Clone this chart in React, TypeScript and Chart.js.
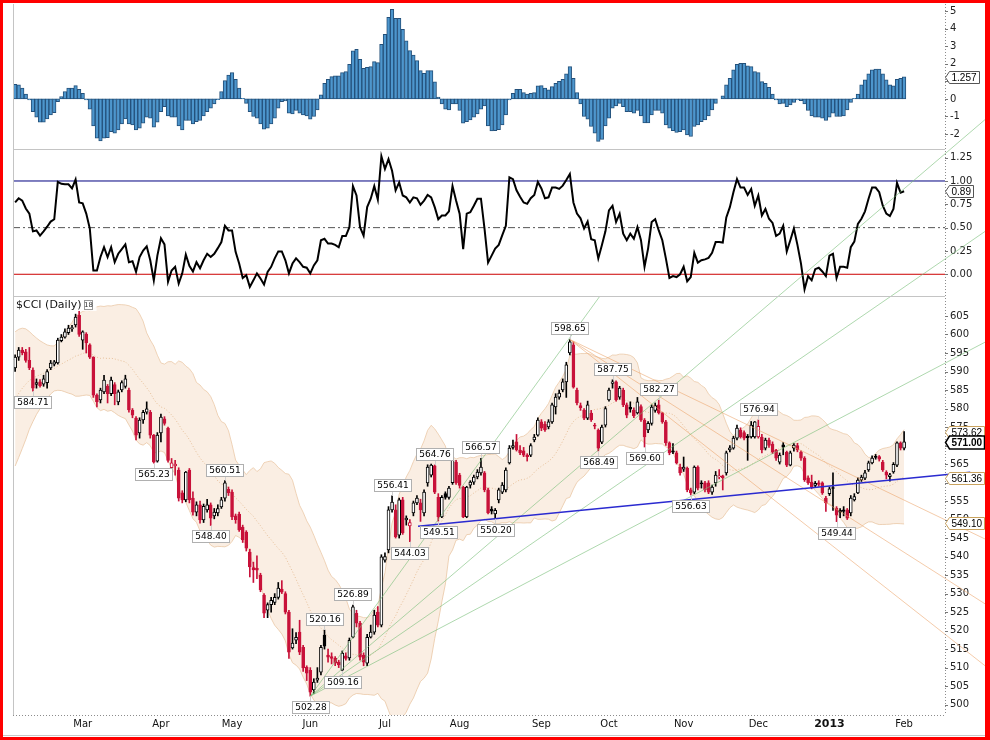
import React, { useEffect, useRef } from 'react';
import { Chart, registerables } from 'chart.js';

Chart.register(...registerables);

// ---------------- DATA ----------------
// closes before the first visible bar (used only to seed the 20-day Bollinger Bands)
const priorCloses = [566, 568, 570, 571, 574, 576, 578, 580, 581, 583, 585, 586, 588, 590, 591, 592, 593, 594, 592];

const opens = [
  591, 593.9, 595.8, 595.3, 593, 590.4, 586.5, 587.2, 586.6, 587,
  591, 592, 592.3, 598.3, 599.3, 600.5, 601.5, 602.6, 605.2, 598.5,
  600.1, 597.2, 593.9, 583.6, 582.3, 584.5, 586, 584, 586.5, 581.8,
  585, 586, 585, 579.6, 577.4, 573.4, 576.9, 579, 579, 572.8,
  565.8, 573.4, 577.2, 574.7, 564, 564.5, 563.4, 557.2, 555.3, 563.4,
  555.8, 552, 554, 549.9, 552.6, 554, 551, 551.8, 553.4, 555.8,
  558.2, 557.4, 551, 551.5, 548, 546.6, 541.2, 537, 536.8, 535,
  529.6, 525.5, 527, 527.6, 529, 531.2, 530, 525, 515.3, 517.4,
  519.6, 515.5, 510.1, 509.3, 504, 506.6, 508.8, 518.8, 513.4, 513,
  512.6, 511.5, 509.3, 513.2, 512.6, 518.2, 524.7, 522, 513.4, 511.2,
  518.2, 519.6, 525, 521.5, 539, 541.8, 552.6, 552.6, 545.8, 555.3,
  549.9, 548.3, 551.8, 554.5, 554.5, 551.8, 559.9, 562, 564.5, 556,
  550.7, 557, 556, 560, 565.5, 562, 558.8, 550.7, 559.3, 560.1,
  561.5, 562.6, 562.6, 558, 552.8, 551.5, 555.3, 557.4, 558, 565.3,
  569.5, 571, 568.8, 568.6, 567.4, 567.4, 571.5, 572.8, 576.4, 575.8,
  575, 576.4, 580.4, 583.1, 585, 587.2, 595, 597.2, 585, 580.8,
  579.6, 577.4, 578.8, 575.5, 574.2, 570.9, 575.5, 582.3, 586.8, 587.2,
  583.1, 585, 581, 580.3, 579.6, 578.8, 580.5, 576.9, 574.2, 576,
  579.5, 581, 578.8, 576.4, 570.7, 568.6, 568, 564.2, 563.6, 563.9,
  558, 557.4, 564.2, 559.9, 559.9, 559.9, 557.4, 559.9, 561.5, 561.8,
  562.6, 568.8, 569.3, 572, 574.2, 573.5, 572.5, 572.3, 572.3, 572.3,
  572.3, 569.3, 571.5, 570.4, 568.8, 565.5, 570.2, 568.2, 564.7, 569.3,
  570, 568.2, 566.6, 561.3, 560.1, 559.2, 559.9, 559.9, 555.8, 557,
  558.5, 553.1, 552.5, 552.6, 552.6, 551.8, 555.3, 557.2, 560.7, 561.2,
  563.4, 565.3, 567, 567, 565.5, 562.8, 561.6, 562.9, 564.7, 570.7,
  569.3,
];

const highs = [
  594.5, 596.5, 596.5, 596, 596.5, 591, 588, 587.8, 589, 590.5,
  593, 593, 599, 600, 601.5, 602.5, 602.5, 605.5, 606.3, 601,
  600.5, 597.5, 594, 584, 585.5, 589, 586.5, 588.5, 587, 585,
  587.5, 589, 585.5, 580, 577.8, 577.5, 579.5, 581.8, 579.5, 573,
  573.5, 578.5, 577.8, 575, 566.5, 566, 564, 557.8, 563, 563.8,
  557.5, 554.8, 555, 554.2, 555.5, 554.5, 553, 554, 556, 560.51,
  558.8, 558, 551.5, 552, 548.5, 547, 542, 538.5, 540.2, 535.5,
  530, 527.5, 529, 530, 533, 533.5, 530.5, 525.5, 520.5, 519.5,
  522.8, 516, 510.5, 510, 507, 510, 516, 520.16, 515, 514,
  513, 512, 514.5, 514, 518, 526.89, 525.5, 522.5, 514, 519,
  521.5, 525.5, 526.5, 540.5, 541, 553.5, 556.41, 554, 555.8, 556,
  551, 550, 555, 556.5, 555.5, 558, 564.8, 565, 564.76, 557,
  556.5, 557.5, 559, 566.5, 566, 562.5, 559, 559, 560.5, 562,
  563.5, 566.57, 563, 558.5, 553.5, 553, 558.5, 560, 564, 570,
  571.5, 573, 570, 569.5, 567.8, 570.5, 573, 577.5, 577, 576.5,
  577, 581.5, 584, 585, 588, 592.5, 598.65, 598, 585.5, 581.5,
  580, 582, 579.5, 576, 574.5, 575.5, 580.5, 585.5, 587.75, 587.5,
  586, 585.5, 581.5, 581.8, 580.2, 583, 581, 577.3, 576.5, 581,
  581.5, 582.27, 579, 576.8, 571, 570.5, 568.5, 565, 566.9, 564.2,
  558.5, 564.5, 564.5, 560.5, 560.3, 560.5, 559.3, 563, 563.5, 562,
  568.5, 570, 572.5, 575.5, 574.8, 574, 573, 576.5, 576.5, 576.94,
  573, 572, 572, 571, 569, 568, 570.8, 568.5, 568.5, 570.5,
  570.6, 568.6, 567, 561.8, 562, 560.3, 560.5, 560.2, 556.3, 558.8,
  562.6, 553.5, 553, 553.5, 553, 556.5, 557, 561.3, 562, 563.3,
  565.8, 567.2, 567.6, 567.3, 566, 563.2, 562.5, 565.4, 571, 571,
  573.8,
];

const lows = [
  590, 593, 594.5, 592.5, 590.5, 584.71, 585.5, 585.8, 586, 585.5,
  590.5, 591.5, 592, 598, 599, 600, 600.8, 602, 599.5, 596,
  595, 593.5, 583, 580.4, 581.5, 584, 581.5, 583.5, 581, 581,
  584.5, 585.5, 579, 577.5, 571.5, 572, 576, 578.5, 572, 565.23,
  565.5, 571, 575.5, 565.5, 563.5, 562, 555, 554.5, 554.8, 554.5,
  551.2, 551, 549, 549.2, 552, 548.4, 550.2, 551, 553, 555,
  556.5, 550, 549, 546.8, 543.8, 541.5, 534.5, 533, 534, 530.5,
  523.5, 523.5, 525, 527, 528.5, 530, 524.5, 512.5, 515, 516.5,
  513.5, 509, 506.5, 502.28, 503, 506, 508, 515, 511.5, 511,
  510.5, 510, 509.16, 512, 512, 518, 521, 512, 510.5, 510.5,
  518, 519, 521, 521, 538.5, 541, 552, 545, 545, 546,
  548.5, 544.03, 551, 554, 549.5, 551, 559, 561.5, 557, 549.51,
  550.5, 555.5, 555.5, 559.5, 559.5, 558.5, 550.5, 550.5, 558.5, 559.5,
  561, 562, 557.5, 551.5, 551.5, 550.2, 554.5, 557, 557.5, 565,
  569, 568.5, 567.5, 567, 565.8, 567, 571, 572.5, 574, 573.8,
  574.5, 576, 578.5, 582.5, 584.5, 583, 594.5, 585.5, 581, 579.5,
  577, 577, 576.5, 574.5, 568.49, 570.5, 575, 582, 585.5, 582,
  582.5, 580.5, 577.5, 579, 577.5, 578.5, 576.5, 569.6, 573.5, 575.5,
  579, 578.5, 576, 570, 567.5, 567.8, 565, 562, 563, 557.5,
  556.63, 557, 558, 558.5, 557.5, 557, 556.8, 559, 561, 558,
  562, 568.3, 569, 571.5, 572, 571.5, 566, 572, 572, 572,
  568, 568.8, 569.5, 567.8, 566, 565, 567.5, 564.3, 564.5, 568.5,
  568.3, 566, 560.3, 559.5, 558.3, 558.8, 559, 556.8, 552.2, 556.5,
  552.5, 549.44, 550.5, 551, 550, 551, 555, 557, 560.3, 560.8,
  563, 565, 566.3, 565.8, 563, 561, 560.4, 562.5, 564.3, 568.8,
  568.8,
];

const closes = [
  593.9, 595.8, 595, 593, 591, 585.5, 587, 586.2, 588, 590,
  592.3, 592.6, 598.5, 599.3, 600.7, 601.7, 601.9, 604.7, 600, 600.7,
  597.7, 593.9, 583.6, 581.8, 585, 587.7, 584, 587.7, 584, 584.5,
  587, 588, 579.6, 578.2, 572.8, 576.9, 579, 579.9, 572.8, 565.5,
  572.8, 577.7, 576, 566, 565.3, 565, 555.8, 555.3, 562.8, 555.3,
  552, 554, 549.9, 553.6, 554, 550.4, 552, 553, 555.3, 559.9,
  557.2, 550.7, 550, 547.2, 544.5, 542.3, 537.2, 536.4, 536.3, 531,
  524.7, 527, 528.2, 529, 531.5, 530.4, 525, 514.2, 516.6, 518.2,
  514.2, 509.9, 508.5, 503.4, 506.1, 507.2, 515.5, 515.8, 512.8, 512.5,
  511.2, 510.7, 513.9, 512.5, 517.4, 526.4, 522, 512.8, 511.5, 518.2,
  519.6, 524.2, 521.5, 539.9, 540, 552.6, 554.7, 545.3, 555.3, 546.4,
  550.4, 549.2, 554.5, 555.8, 552.6, 557.4, 564.2, 564.7, 557.4, 550.7,
  556, 556, 558.5, 566, 559.9, 559.2, 550.7, 558.8, 560.1, 561.5,
  562.8, 564.2, 558, 551.8, 552.3, 552.5, 558, 559.3, 563.4, 569.3,
  570, 568.8, 568, 567.4, 567, 570, 572.3, 576.9, 574.7, 574.2,
  576.4, 581, 583.1, 584.2, 587.2, 591.8, 598, 585.8, 581.5, 580.2,
  577.4, 581, 576.9, 575.2, 569.3, 575, 580, 585, 587.2, 582.3,
  585.5, 581, 578.2, 579.8, 578, 581.8, 576.9, 572.3, 576, 580.4,
  580.8, 578.8, 576.4, 570.7, 568, 568.2, 565.3, 562.6, 564.2, 558,
  557.2, 564.2, 558.5, 559.6, 558, 557.4, 558.8, 562, 561.8, 561.3,
  568, 569.4, 572, 574.7, 572.3, 572, 572.1, 575.5, 576.4, 575.2,
  568.8, 571.5, 570, 568.2, 566.6, 567.4, 569.6, 564.7, 568, 570.1,
  568.8, 566.6, 560.7, 560, 558.8, 559.8, 559.5, 557.2, 554.5, 558.3,
  558.4, 551.2, 552, 552.2, 550.4, 555.8, 556.2, 560.7, 561.5, 562.6,
  565.3, 566.6, 566.8, 566.3, 563.4, 562, 562.1, 564.9, 570.7, 569.3,
  571,
];

// top panel histogram
const histValues = [
  0.83, 0.80, 0.61, 0.27, -0.06, -0.72, -1.04, -1.33, -1.33, -1.14,
  -0.91, -0.78, -0.15, 0.13, 0.42, 0.61, 0.61, 0.76, 0.55, 0.32,
  -0.06, -0.59, -1.53, -2.23, -2.39, -2.23, -2.20, -1.86, -1.95, -1.76,
  -1.42, -1.14, -1.42, -1.48, -1.76, -1.67, -1.38, -1.04, -1.10, -1.61,
  -1.33, -0.72, -0.44, -0.97, -1.04, -1.04, -1.53, -1.76, -1.23, -1.23,
  -1.42, -1.29, -1.23, -0.97, -0.72, -0.53, -0.28, -0.05, 0.42, 1.04,
  1.36, 1.50, 1.12, 0.61, 0.04, -0.25, -0.72, -1.00, -1.10, -1.42,
  -1.72, -1.67, -1.42, -1.10, -0.53, -0.15, -0.11, -0.81, -0.85, -0.66,
  -0.81, -0.91, -0.97, -1.15, -1.00, -0.63, 0.23, 0.89, 1.12, 1.27,
  1.31, 1.31, 1.50, 1.55, 1.97, 2.73, 2.82, 2.25, 1.74, 1.80,
  1.84, 2.12, 2.06, 3.11, 3.68, 4.64, 5.10, 4.58, 4.58, 3.96,
  3.30, 2.75, 2.50, 2.18, 1.61, 1.46, 1.61, 1.61, 0.97, 0.10,
  -0.28, -0.59, -0.63, -0.28, -0.28, -0.66, -1.38, -1.29, -1.20, -1.04,
  -0.85, -0.59, -0.40, -1.53, -1.82, -1.80, -1.75, -1.48, -0.91, -0.06,
  0.32, 0.55, 0.55, 0.36, 0.27, 0.32, 0.36, 0.74, 0.76, 0.61,
  0.51, 0.70, 0.89, 1.00, 1.12, 1.42, 1.84, 1.17, 0.36, -0.28,
  -1.00, -1.15, -1.57, -1.95, -2.42, -2.30, -1.53, -1.10, -0.53, -0.40,
  -0.25, -0.44, -0.72, -0.72, -0.81, -0.66, -0.97, -1.36, -1.36, -0.91,
  -0.66, -0.66, -0.81, -1.48, -1.67, -1.80, -1.91, -1.86, -1.76, -2.05,
  -2.14, -1.57, -1.48, -1.29, -1.20, -0.97, -0.63, -0.25, 0.00, 0.17,
  0.80, 1.17, 1.65, 1.97, 2.03, 2.03, 1.88, 1.84, 1.55, 1.50,
  0.98, 0.89, 0.66, 0.28, -0.06, -0.28, -0.25, -0.44, -0.34, -0.20,
  -0.06, -0.10, -0.28, -0.66, -0.97, -1.04, -1.04, -1.10, -1.23, -1.04,
  -0.81, -1.00, -1.00, -0.97, -0.63, -0.20, 0.04, 0.28, 0.80, 1.08,
  1.42, 1.65, 1.70, 1.70, 1.42, 1.08, 0.80, 0.74, 1.12, 1.17,
  1.257,
];

// middle panel %B
const pctBValues = [
  0.77, 0.815, 0.79, 0.705, 0.65, 0.46, 0.47, 0.415, 0.46, 0.51,
  0.565, 0.59, 0.99, 0.97, 0.965, 0.965, 0.92, 1.015, 0.77, 0.76,
  0.65, 0.49, 0.04, 0.04, 0.185, 0.29, 0.185, 0.29, 0.13, 0.22,
  0.27, 0.32, 0.13, 0.14, 0.025, 0.185, 0.255, 0.30, 0.15, -0.065,
  0.20, 0.385, 0.32, -0.08, 0.04, 0.08, -0.10, 0.01, 0.21, 0.09,
  0.03, 0.13, 0.065, 0.15, 0.22, 0.185, 0.22, 0.28, 0.345, 0.52,
  0.47, 0.47, 0.24, 0.115, -0.04, -0.01, -0.135, -0.065, 0.01, -0.045,
  -0.11, 0.025, 0.08, 0.17, 0.245, 0.245, 0.15, 0.01, 0.115, 0.17,
  0.13, 0.08, 0.07, 0.01, 0.095, 0.15, 0.365, 0.38, 0.33, 0.33,
  0.315, 0.29, 0.41, 0.41, 0.505, 0.945, 0.845, 0.505, 0.415, 0.72,
  0.81, 0.945, 0.80, 1.265, 1.13, 1.235, 1.11, 0.90, 0.985, 0.845,
  0.825, 0.77, 0.825, 0.815, 0.745, 0.79, 0.85, 0.825, 0.72, 0.59,
  0.63, 0.63, 0.675, 0.945, 0.79, 0.65, 0.27, 0.65, 0.665, 0.735,
  0.81, 0.81, 0.49, 0.125, 0.20, 0.275, 0.315, 0.42, 0.52, 1.04,
  1.02, 0.90, 0.83, 0.77, 0.755, 0.815, 0.85, 0.99, 0.92, 0.815,
  0.825, 0.93, 0.93, 0.915, 0.95, 1.01, 1.075, 0.77, 0.65, 0.60,
  0.49, 0.565, 0.375, 0.365, 0.17, 0.31, 0.46, 0.685, 0.735, 0.56,
  0.65, 0.435, 0.365, 0.435, 0.38, 0.505, 0.365, 0.08, 0.275, 0.56,
  0.59, 0.47, 0.365, 0.17, -0.04, -0.02, -0.03, 0.0, 0.08, -0.075,
  -0.03, 0.23, 0.125, 0.15, 0.16, 0.175, 0.23, 0.345, 0.345, 0.34,
  0.61, 0.72, 0.88, 1.02, 0.93, 0.93, 0.85, 0.915, 0.735, 0.845,
  0.63, 0.70, 0.595, 0.55, 0.41, 0.435, 0.52, 0.245, 0.365, 0.49,
  0.315, 0.115, -0.16, -0.02, -0.065, 0.055, 0.07, 0.03, -0.02, 0.20,
  0.22, -0.04, 0.08, 0.08, 0.07, 0.29, 0.35, 0.54, 0.595, 0.675,
  0.81, 0.93, 0.93, 0.88, 0.735, 0.65, 0.625, 0.70, 0.98, 0.875,
  0.89,
];

// x axis: bar index of first trading day of each month, and its label
const monthTickIdx = [19, 41, 61, 83, 104, 125, 148, 167, 188, 209, 229, 250];
const monthLabels = ['Mar', 'Apr', 'May', 'Jun', 'Jul', 'Aug', 'Sep', 'Oct', 'Nov', 'Dec', '2013', 'Feb'];

// right axis ticks
const histTicks = [-2, -1, 0, 1, 2, 3, 4, 5];
const pctTicks = [0, 0.25, 0.5, 0.75, 1, 1.25];
const priceTicks = [500, 505, 510, 515, 520, 525, 530, 535, 540, 545, 550, 555, 560, 565, 570, 575, 580, 585, 590, 595, 600, 605];

// %B reference levels
const pctLevels = [1, 0, 0.5];

// price annotations (bar index, value, a = above high / b = below low)
const annIdx = [5, 39, 55, 59, 83, 87, 92, 95, 106, 111, 118, 119, 131, 135, 156, 164, 168, 177, 181, 190, 209, 231];
const annVal = [584.71, 565.23, 548.40, 560.51, 502.28, 520.16, 509.16, 526.89, 556.41, 544.03, 564.76, 549.51, 566.57, 550.20, 598.65, 568.49, 587.75, 569.60, 582.27, 556.63, 576.94, 549.44];
const annPos = ['b', 'b', 'b', 'a', 'b', 'a', 'b', 'a', 'a', 'b', 'a', 'b', 'a', 'b', 'a', 'b', 'a', 'b', 'a', 'b', 'a', 'b'];

// drawn lines: [startIndex, startPrice, endIndex, endPrice]
const greenFan = [
  [83, 502.28, 164.4, 610.3],
  [83, 502.28, 273.3, 658.5],
  [83, 502.28, 273.3, 628.2],
  [83, 502.28, 273.3, 598.2],
];
const orangeFan = [
  [156, 598.65, 273.3, 510.1],
  [156, 598.65, 273.3, 526.9],
  [156, 598.65, 273.3, 544.5],
];
const trendLine = [113.3, 548.2, 268.6, 562.8];

// last-value tags on the right axis
const tagAxis = ['yh', 'yb', 'yp', 'yp', 'yp', 'yp'];
const tagValue = [1.257, 0.89, 573.62, 561.36, 549.10, 571.00];
const tagText = ['1.257', '0.89', '573.62', '561.36', '549.10', '571.00'];
const tagKind = ['plain', 'plain', 'band', 'band', 'band', 'close'];

// ---------------- STYLE ----------------
const X_MIN = -0.6;
const X_MAX = 261.5;
const CANDLE_RED = '#c8123a';
const FONT = '"DejaVu Sans", sans-serif';
const TAG_FONT = '"Liberation Sans", Arial, sans-serif';

function buildBands() {
  const all = priorCloses.concat(closes);
  const upper: any[] = [];
  const lower: any[] = [];
  const mid: any[] = [];
  for (let i = 0; i < closes.length; i++) {
    const w = all.slice(i, i + 20);
    const m = w.reduce((a, b) => a + b, 0) / w.length;
    const sd = Math.sqrt(w.reduce((a, b) => a + (b - m) * (b - m), 0) / w.length);
    upper.push({ x: i, y: m + 2 * sd });
    lower.push({ x: i, y: m - 2 * sd });
    mid.push({ x: i, y: m });
  }
  return { upper, lower, mid };
}

function drawTag(ctx: CanvasRenderingContext2D, xTip: number, y: number, text: string, kind: string) {
  ctx.font = kind === 'close' ? `bold 10px ${TAG_FONT}` : `10px ${TAG_FONT}`;
  const w = Math.ceil(ctx.measureText(text).width) + 4;
  const h = kind === 'close' ? 13 : 12;
  const x0 = xTip + 4;
  ctx.beginPath();
  ctx.moveTo(xTip, y);
  ctx.lineTo(x0, y - h / 2);
  ctx.lineTo(x0 + w, y - h / 2);
  ctx.lineTo(x0 + w, y + h / 2);
  ctx.lineTo(x0, y + h / 2);
  ctx.closePath();
  ctx.fillStyle = '#ffffff';
  ctx.fill();
  ctx.lineWidth = kind === 'close' ? 1.5 : 1;
  ctx.strokeStyle = kind === 'band' ? '#c9a25e' : kind === 'close' ? '#000000' : '#555555';
  ctx.stroke();
  ctx.fillStyle = '#000000';
  ctx.textAlign = 'left';
  ctx.textBaseline = 'middle';
  ctx.fillText(text, x0 + 2, y + 0.5);
}

const overlayPlugin = {
  id: 'overlay',
  afterDraw(chart: any) {
    const ctx: CanvasRenderingContext2D = chart.ctx;
    const { left, right, top, bottom } = chart.chartArea;
    const xs = chart.scales.x;
    const yh = chart.scales.yh;
    const yb = chart.scales.yb;
    const yp = chart.scales.yp;
    ctx.save();

    // panel separators and left border
    ctx.lineWidth = 1;
    ctx.strokeStyle = '#c4c4c4';
    ctx.beginPath();
    ctx.moveTo(left, Math.round(yh.bottom) + 0.5);
    ctx.lineTo(right, Math.round(yh.bottom) + 0.5);
    ctx.moveTo(left, Math.round(yb.bottom) + 0.5);
    ctx.lineTo(right, Math.round(yb.bottom) + 0.5);
    ctx.moveTo(Math.round(left) + 0.5, top);
    ctx.lineTo(Math.round(left) + 0.5, bottom);
    ctx.stroke();

    // dotted right and bottom axis lines
    ctx.setLineDash([1, 2]);
    ctx.strokeStyle = '#8c8c8c';
    ctx.beginPath();
    ctx.moveTo(Math.round(right) + 0.5, top);
    ctx.lineTo(Math.round(right) + 0.5, bottom);
    ctx.moveTo(left, Math.round(bottom) + 0.5);
    ctx.lineTo(right, Math.round(bottom) + 0.5);
    ctx.stroke();
    ctx.setLineDash([]);

    // small tick marks on right axis
    ctx.strokeStyle = '#777777';
    ctx.beginPath();
    [yh, yb, yp].forEach((s: any) => {
      s.ticks.forEach((t: any) => {
        const py = Math.round(s.getPixelForValue(t.value)) + 0.5;
        ctx.moveTo(right, py);
        ctx.lineTo(right + 3, py);
      });
    });
    ctx.stroke();

    // price annotations
    ctx.font = `9px ${FONT}`;
    annIdx.forEach((idx, k) => {
      const v = annVal[k];
      const px = xs.getPixelForValue(idx);
      const py = yp.getPixelForValue(v);
      const text = v.toFixed(2);
      const w = Math.ceil(ctx.measureText(text).width) + 5;
      const h = 12;
      const bx = Math.round(px - w / 2) + 0.5;
      const by = annPos[k] === 'b' ? Math.round(py + 5) + 0.5 : Math.round(py - 5 - h) + 0.5;
      ctx.strokeStyle = '#cfcfcf';
      ctx.lineWidth = 1;
      ctx.beginPath();
      ctx.moveTo(Math.round(px) + 0.5, py);
      ctx.lineTo(Math.round(px) + 0.5, annPos[k] === 'b' ? by : by + h);
      ctx.stroke();
      ctx.fillStyle = '#ffffff';
      ctx.fillRect(bx, by, w, h);
      ctx.strokeStyle = '#b0b0b0';
      ctx.strokeRect(bx, by, w, h);
      ctx.fillStyle = '#000000';
      ctx.textAlign = 'center';
      ctx.textBaseline = 'middle';
      ctx.fillText(text, bx + w / 2, by + h / 2 + 0.5);
    });

    // title
    ctx.font = `11px ${FONT}`;
    ctx.textAlign = 'left';
    ctx.textBaseline = 'middle';
    const title = '$CCI (Daily)';
    const tw = ctx.measureText(title).width;
    ctx.fillStyle = 'rgba(255,255,255,0.85)';
    ctx.fillRect(left + 2, yp.top + 2, tw + 16, 13);
    ctx.fillStyle = '#111111';
    ctx.fillText(title, left + 3, yp.top + 9);
    ctx.strokeStyle = '#999999';
    ctx.strokeRect(Math.round(left + 5 + tw) + 0.5, Math.round(yp.top + 4) + 0.5, 8, 9);
    ctx.font = `7px ${FONT}`;
    ctx.fillStyle = '#333333';
    ctx.fillText('18', left + 5.5 + tw, yp.top + 9);

    // right-side value tags
    const scales: any = { yh, yb, yp };
    tagValue.forEach((v, k) => {
      const s = scales[tagAxis[k]];
      drawTag(ctx, right + 0.5, Math.round(s.getPixelForValue(v)) + 0.5, tagText[k], tagKind[k]);
    });

    // outer frame
    const W = chart.width;
    const H = chart.height;
    ctx.strokeStyle = '#c8c8c8';
    ctx.lineWidth = 1;
    ctx.beginPath();
    ctx.moveTo(3, H - 4.5);
    ctx.lineTo(W - 5, H - 4.5);
    ctx.stroke();
    ctx.fillStyle = '#ff0000';
    ctx.fillRect(0, 0, W, 3);
    ctx.fillRect(0, 0, 3, H);
    ctx.fillRect(0, H - 3, W, 3);
    ctx.fillRect(W - 5, 0, 5, H);

    ctx.restore();
  },
};

function lineDs(seg: number[], color: string, width: number, order: number) {
  return {
    type: 'line',
    data: [{ x: seg[0], y: seg[1] }, { x: seg[2], y: seg[3] }],
    xAxisID: 'x',
    yAxisID: 'yp',
    borderColor: color,
    borderWidth: width,
    pointRadius: 0,
    fill: false,
    clip: false,
    order,
  };
}

export default function App() {
  const ref = useRef<HTMLCanvasElement | null>(null);

  useEffect(() => {
    if (!ref.current) return;
    Chart.defaults.font.family = FONT;
    Chart.defaults.font.size = 10;
    Chart.defaults.color = '#111111';

    const bands = buildBands();
    const strokeCols = closes.map((c, i) => {
      const prev = i === 0 ? priorCloses[priorCloses.length - 1] : closes[i - 1];
      return c >= prev ? '#000000' : CANDLE_RED;
    });
    const fillCols = closes.map((c, i) => (c < opens[i] ? strokeCols[i] : '#ffffff'));

    const levelColors = ['#000080', '#cc0000', '#555555'];
    const levelDash = [[], [], [7, 3, 2, 3]];

    const datasets: any[] = [
      {
        type: 'line', data: bands.upper, xAxisID: 'x', yAxisID: 'yp',
        borderColor: 'rgba(232,196,160,0.75)', borderWidth: 1, pointRadius: 0, fill: false, order: 30,
      },
      {
        type: 'line', data: bands.lower, xAxisID: 'x', yAxisID: 'yp',
        borderColor: 'rgba(232,196,160,0.75)', borderWidth: 1, pointRadius: 0,
        fill: '-1', backgroundColor: 'rgba(240,208,178,0.36)', order: 29,
      },
      {
        type: 'line', data: bands.mid, xAxisID: 'x', yAxisID: 'yp',
        borderColor: 'rgba(225,180,135,0.8)', borderWidth: 1, borderDash: [1, 2], pointRadius: 0, fill: false, order: 28,
      },
      {
        type: 'bar', data: histValues.map((v, i) => ({ x: i, y: v })), xAxisID: 'x', yAxisID: 'yh',
        backgroundColor: '#4d96cd', borderColor: '#23507a', borderWidth: 1, borderSkipped: false,
        barPercentage: 1, categoryPercentage: 1, grouped: false, order: 20,
      },
      {
        type: 'bar', data: lows.map((l, i) => ({ x: i, y: [l, highs[i]] })), xAxisID: 'x', yAxisID: 'yp',
        backgroundColor: strokeCols, borderWidth: 0, barThickness: 1, grouped: false, order: 15,
      },
      {
        type: 'bar', data: opens.map((o, i) => ({ x: i, y: [o, closes[i]] })), xAxisID: 'x', yAxisID: 'yp',
        backgroundColor: fillCols, borderColor: strokeCols, borderWidth: 1, borderSkipped: false,
        barThickness: 3, minBarLength: 1, grouped: false, order: 14,
      },
      ...pctLevels.map((lv, k) => ({
        type: 'line', data: [{ x: X_MIN, y: lv }, { x: X_MAX, y: lv }], xAxisID: 'x', yAxisID: 'yb',
        borderColor: levelColors[k], borderWidth: 1, borderDash: levelDash[k], pointRadius: 0, fill: false, order: 8,
      })),
      {
        type: 'line', data: pctBValues.map((v, i) => ({ x: i, y: v })), xAxisID: 'x', yAxisID: 'yb',
        borderColor: '#000000', borderWidth: 2, pointRadius: 0, fill: false, tension: 0, order: 5,
      },
      ...greenFan.map((s) => lineDs(s, 'rgba(120,190,120,0.6)', 1, 3)),
      ...orangeFan.map((s) => lineDs(s, 'rgba(235,160,100,0.55)', 1, 3)),
      lineDs(trendLine, '#2a2ad0', 1.5, 1),
    ];

    const yBase = (weight: number, min: number, max: number, tickVals: number[], fmt: (v: number) => string) => ({
      type: 'linear',
      position: 'right',
      stack: 'panels',
      stackWeight: weight,
      min,
      max,
      grid: { display: false, drawTicks: false },
      border: { display: false },
      ticks: {
        autoSkip: false,
        padding: 5,
        color: '#222222',
        font: { size: 10 },
        callback: (v: any) => fmt(Number(v)),
      },
      afterBuildTicks: (s: any) => {
        s.ticks = tickVals.map((v) => ({ value: v }));
      },
      afterFit: (s: any) => {
        s.width = 45;
        s.paddingTop = 0;
        s.paddingBottom = 0;
      },
    });

    const chart = new Chart(ref.current, {
      type: 'bar',
      data: { datasets },
      options: {
        animation: false,
        responsive: false,
        maintainAspectRatio: false,
        events: [],
        layout: { padding: { left: 13, top: 4, right: 0, bottom: 0 } },
        plugins: { legend: { display: false }, tooltip: { enabled: false } },
        scales: {
          x: {
            type: 'linear',
            min: X_MIN,
            max: X_MAX,
            offset: false,
            grid: { display: false, drawTicks: false, offset: false },
            border: { display: false },
            ticks: {
              autoSkip: false,
              maxRotation: 0,
              padding: 3,
              color: '#111111',
              font: (c: any) => {
                const k = c.tick ? monthTickIdx.indexOf(c.tick.value) : -1;
                return monthLabels[k] === '2013' ? { size: 11, weight: 'bold' } : { size: 10 };
              },
              callback: (v: any) => {
                const k = monthTickIdx.indexOf(Number(v));
                return k >= 0 ? monthLabels[k] : '';
              },
            },
            afterBuildTicks: (s: any) => {
              s.ticks = monthTickIdx.map((v) => ({ value: v }));
            },
            afterFit: (s: any) => {
              s.height = 25;
              s.paddingLeft = 0;
              s.paddingRight = 0;
            },
          },
          yh: yBase(145, -2.85, 5.4, histTicks, (v) => String(v)),
          yb: yBase(147, -0.233, 1.343, pctTicks, (v) => v.toFixed(2)),
          yp: yBase(419, 497.2, 610.4, priceTicks, (v) => String(v)),
        },
      } as any,
      plugins: [overlayPlugin],
    } as any);

    return () => {
      chart.destroy();
    };
  }, []);

  return (
    <div style={{ position: 'fixed', left: 0, top: 0, width: 990, height: 740, background: '#ffffff' }}>
      <canvas ref={ref} width={990} height={740} style={{ display: 'block', width: 990, height: 740 }} />
    </div>
  );
}
